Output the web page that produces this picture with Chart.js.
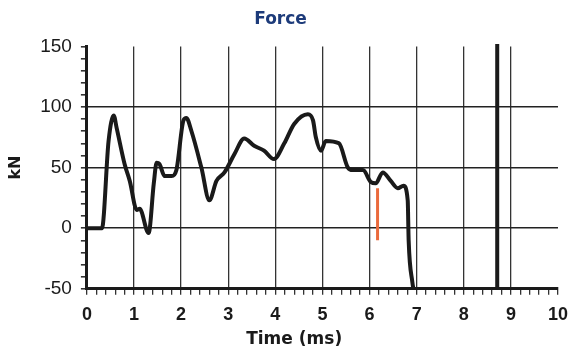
<!DOCTYPE html>
<html>
<head>
<meta charset="utf-8">
<script src="https://cdn.jsdelivr.net/npm/chart.js@4/dist/chart.umd.min.js"></script>
<style>
  html, body { margin: 0; padding: 0; background: #fff; }
  #wrap { width: 571px; height: 351px; }
</style>
</head>
<body>
<div id="wrap"><canvas id="force"></canvas></div>
<script>
'use strict';

// force trace (time in ms, force in kN)
var timeMs  = [0, 0.32, 0.46, 0.57, 0.63, 0.80, 0.91, 1.06, 1.12, 1.31, 1.42, 1.48, 1.54, 1.65, 1.80, 1.90,
               2.05, 2.11, 2.22, 2.43, 2.60, 2.75, 2.92, 3.13, 3.34, 3.55, 3.76, 3.97, 4.19, 4.40, 4.69, 4.80,
               4.86, 4.97, 5.07, 5.35, 5.54, 5.64, 5.86, 6.03, 6.13, 6.28, 6.45, 6.60, 6.72, 6.81, 6.83, 6.91, 6.93];
var forceKn = [0, 0, 72, 93, 83, 53, 39, 15, 16, -4, 37, 54, 53, 43, 43, 48,
               89, 91, 80, 50, 23, 39, 46, 61, 74, 68, 64, 57, 70, 86, 94, 89,
               75, 64, 72, 70, 50, 48, 48, 38, 37, 46, 39, 33, 35, 23, -10, -45, -50];

// cursor marks drawn on the plot
var markerTime  = [8.71, 8.71];
var markerForce = [152, -50];
var redTime     = [6.17, 6.17];
var redForce    = [33, -10];

var xMin = 0, xMax = 10, xStep = 0.2;
var yMin = -50, yMax = 150, yStep = 10;
var yGridAt = [0, 50, 100];

var ink = '#1a1a1a';

var toPoints = function(xs, ys){
  return xs.map(function(x, i){ return { x: x, y: ys[i] }; });
};

var isWhole = function(v){ return Math.abs(v - Math.round(v)) < 1e-6; };

var axisTitlePlugin = {
  id: 'axisTitle',
  afterDraw: function(chart){
    var ctx = chart.ctx;
    ctx.save();
    ctx.fillStyle = ink;
    ctx.font = 'bold 17px "DejaVu Sans"';
    ctx.textAlign = 'center';
    ctx.textBaseline = 'middle';
    ctx.fillText('Time (ms)', chart.scales.x.getPixelForValue(4.4), 340);
    ctx.restore();
  }
};

new Chart(document.querySelector('#force'), {
  type: 'scatter',
  data: {
    datasets: [
      { data: toPoints(timeMs, forceKn), showLine: true, borderColor: ink, borderWidth: 4,
        pointRadius: 0, cubicInterpolationMode: 'monotone', clip: false },
      { data: toPoints(markerTime, markerForce), showLine: true, borderColor: ink, borderWidth: 4,
        pointRadius: 0, clip: false },
      { data: toPoints(redTime, redForce), showLine: true, borderColor: '#ea6a3c', borderWidth: 3,
        pointRadius: 0, clip: false }
    ]
  },
  options: {
    responsive: true, maintainAspectRatio: false, animation: false,
    layout: { autoPadding: false, padding: { left: 0, right: 10, top: 4, bottom: 16 } },
    plugins: {
      legend: { display: false },
      tooltip: { enabled: false },
      title: { display: true, text: 'Force', color: '#1d3b7a',
               font: { family: 'DejaVu Sans', size: 17, weight: 'bold' }, padding: { top: 5, bottom: 17 } }
    },
    scales: {
      x: {
        type: 'linear', min: xMin, max: xMax,
        border: { display: true, color: ink, width: 3 },
        grid: {
          color: function(c){ var v = c.tick.value; return isWhole(v) && v > xMin && v < xMax ? '#333' : 'rgba(0,0,0,0)'; },
          lineWidth: 1.3, tickColor: '#333', tickLength: 6
        },
        ticks: {
          stepSize: xStep, autoSkip: false, maxRotation: 0, color: ink, padding: 3,
          font: { family: 'Liberation Sans', size: 18, weight: 'bold', lineHeight: 1.9 },
          callback: function(v){ return isWhole(v) ? Math.round(v) : ''; }
        }
      },
      y: {
        min: yMin, max: yMax,
        border: { display: true, color: ink, width: 3 },
        grid: {
          color: function(c){ return yGridAt.indexOf(c.tick.value) >= 0 ? '#222' : 'rgba(0,0,0,0)'; },
          lineWidth: 1.6, tickColor: '#333', tickLength: 6
        },
        ticks: {
          stepSize: yStep, autoSkip: false, color: ink, padding: 9,
          font: { family: 'Liberation Sans', size: 19 },
          callback: function(v){ return v % 50 === 0 ? v : ''; }
        },
        title: { display: true, text: 'kN', color: ink, padding: { top: 6, bottom: 6 },
                 font: { family: 'DejaVu Sans', size: 16, weight: 'bold' } }
      }
    }
  },
  plugins: [axisTitlePlugin]
});
</script>
</body>
</html>
